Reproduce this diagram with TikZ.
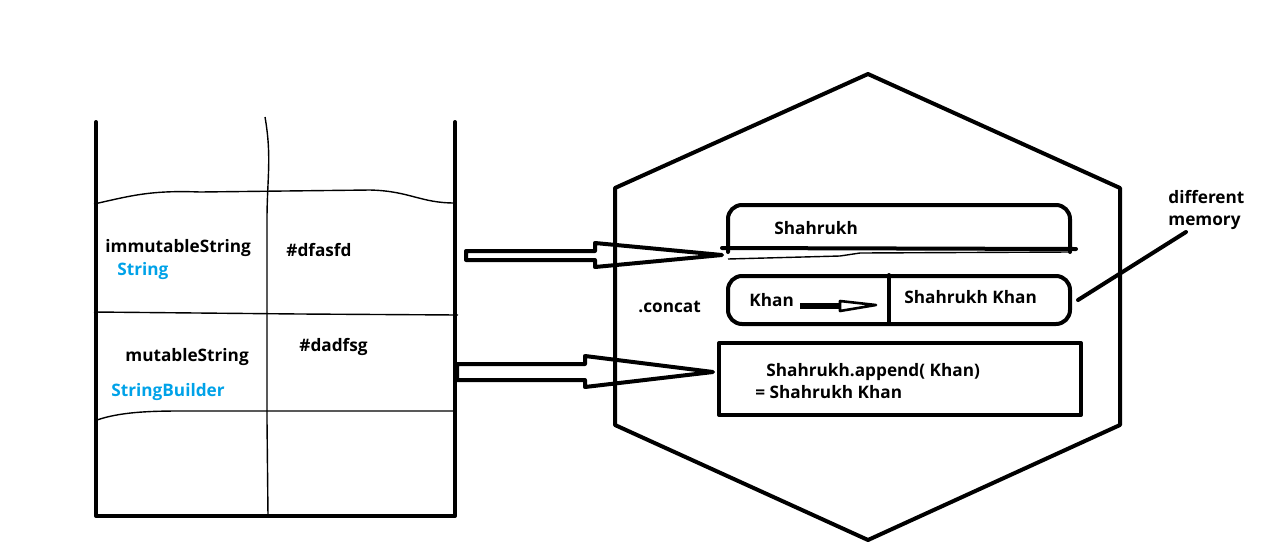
\documentclass[tikz,border=0pt]{standalone}
\usepackage{fontspec}
\setmainfont{Open Sans}
\usetikzlibrary{positioning,calc}
\definecolor{paintblue}{RGB}{0,162,232}
\tikzset{
    lbl/.style={font=\bfseries\fontsize{8.6}{10}\selectfont, inner sep=0pt, anchor=west},
    bluelbl/.style={lbl, text=paintblue},
    wall/.style={line width=2pt, line join=round, line cap=round},
    thinline/.style={line width=0.7pt},
}

\begin{document}
\begin{tikzpicture}[x=0.5pt, y=-0.5pt]
    \useasboundingbox (0,0) rectangle (1266,553);

    % stack of memory
    \draw[wall] (96,122) -- (96,516) -- (455,516) -- (455,122);
    \draw[thinline] (265,117) to[out=-80,in=90] (267,220) -- (267,420) -- (268,516);
    \draw[thinline] (94,204) .. controls (130,196) and (150,190) .. (200,192) -- (370,190) .. controls (410,191) and (420,203) .. (455,203);
    \draw[thinline] (94,312) -- (300,314) -- (458,315);
    \draw[thinline] (97,420) .. controls (120,412) and (150,411) .. (180,411) -- (455,411);

    \node[lbl] (immut) at (105,248) {immutableString};
    \node[bluelbl] (immutType) at (117,271) {String};
    \node[lbl] (immutAddr) at (286,250) {\#dfasfd};
    \node[lbl] (mut) at (125,357) {mutableString};
    \node[bluelbl] (mutType) at (111,392) {StringBuilder};
    \node[lbl] (mutAddr) at (299,347) {\#dadfsg};

    % heap
    \draw[wall] (868,74) -- (1120,188) -- (1120,425) -- (868,540) -- (615,425) -- (615,188) -- cycle;
    \node[lbl] (concat) at (638,307) {.concat};

    \draw[wall, rounded corners=7pt] (728,252) -- (728,205) -- (1070,205) -- (1070,252);
    \draw[wall] (722,248) -- (1076,249);
    \draw[thinline] (728,259) -- (840,256) -- (860,253) -- (1070,252);
    \node[lbl] (first) at (774,228) {Shahrukh};

    \draw[wall, rounded corners=7pt] (728,276) rectangle (1070,324);
    \draw[wall] (889,275) -- (889,323);
    \node[lbl] (second) at (749,300) {Khan};
    \node[lbl] (joined) at (904,297) {Shahrukh Khan};
    \coordinate (khanTail) at (800,306);
    \coordinate (khanHead) at (840,306);
    \coordinate (khanTip) at (876,305);
    \draw[line width=3pt] (khanTail) -- (khanHead);
    \draw[line width=1.3pt, line join=round] ($(khanHead)+(0,-5)$) -- (khanTip) -- ($(khanHead)+(0,5)$) -- cycle;

    \draw[wall] (719,343) rectangle (1081,415);
    \node[lbl] (append) at (766,372) {Shahrukh.append( Khan)};
    \node[lbl] (result) at (755,392) {= Shahrukh Khan};

    \node[lbl] (diff) at (1168,197) {different};
    \node[lbl] (memory) at (1168,223) {memory};
    \coordinate (memLink) at (1078,300);
    \draw[wall] (memLink) -- (1186,232);

    % block arrows
    \coordinate (strTail) at (466,255.5);
    \coordinate (strTip) at (722,255);
    \draw[wall] ($(strTail)+(0,-4.5)$) -- (595,251) -- (595,243) -- (strTip) -- (595,267) -- (595,260) -- (466,260) -- cycle;
    \coordinate (sbTail) at (457,372);
    \coordinate (sbTip) at (713,372);
    \draw[wall] ($(sbTail)+(0,-8)$) -- (585,364) -- (585,356) -- (sbTip) -- (585,387) -- (585,380) -- (457,380) -- cycle;
\end{tikzpicture}
\end{document}
